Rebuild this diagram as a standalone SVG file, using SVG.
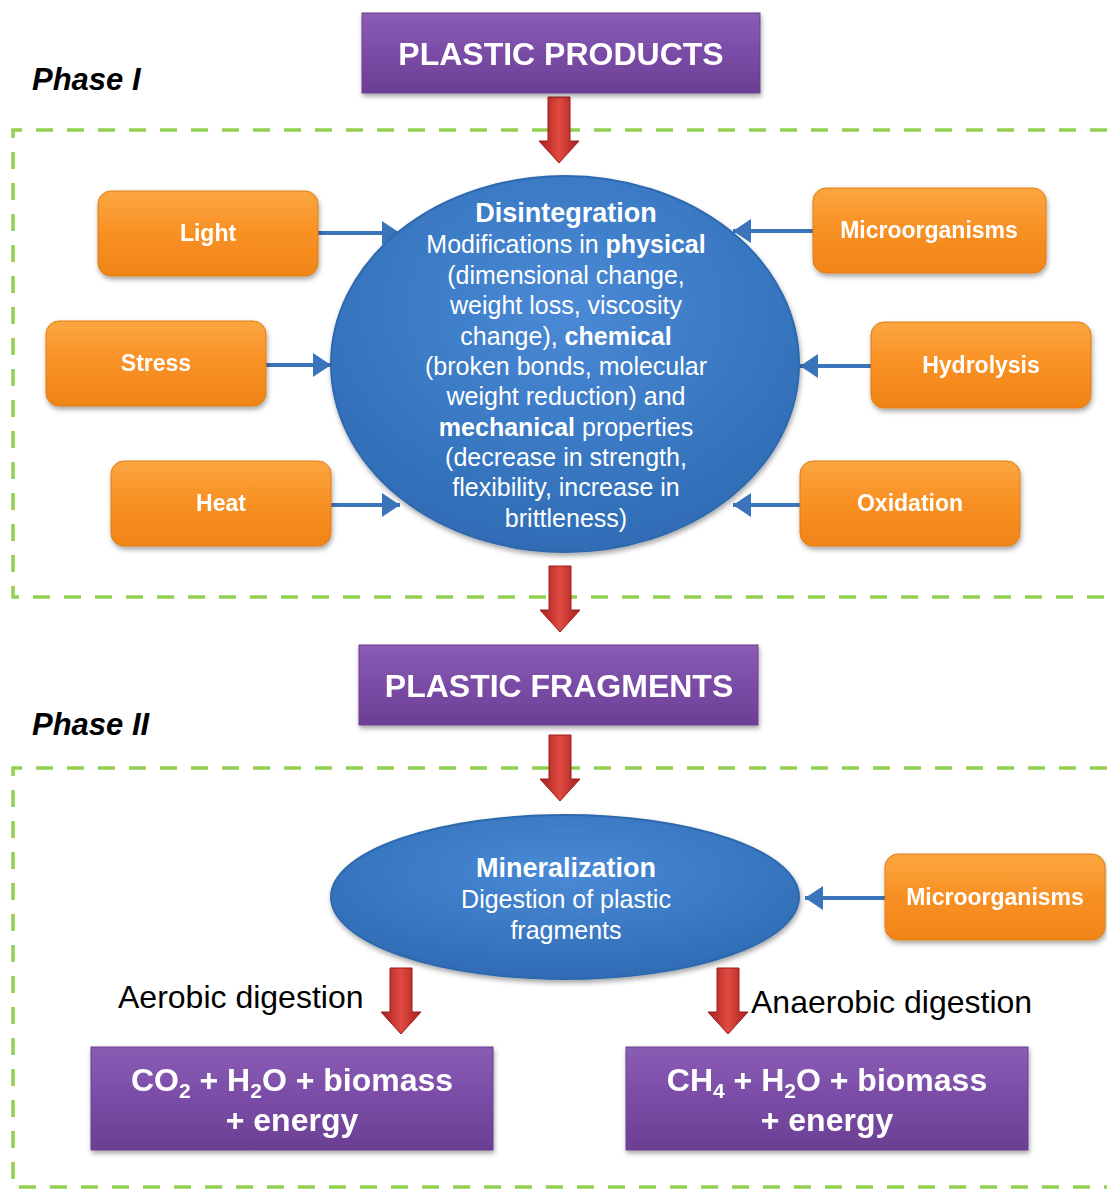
<svg xmlns="http://www.w3.org/2000/svg" xmlns:xlink="http://www.w3.org/1999/xlink" width="1107" height="1190" viewBox="0 0 1107 1190">
<style>
.dash{fill:none;stroke:#92D050;stroke-width:3.5;stroke-dasharray:17 14}
.purple{fill:url(#gPurple);stroke:#6A3E8E;stroke-width:1}
.orange{fill:url(#gOrange);stroke:#E07D12;stroke-width:1}
.blue{fill:url(#gBlue);stroke:#2E69AE;stroke-width:2}
.bl{stroke:#3A74BA;stroke-width:4;fill:none;marker-end:url(#bh)}
.tw{fill:#fff;font-family:"Liberation Sans",Arial,sans-serif;text-anchor:middle}
.big{font-size:32px;font-weight:bold}
.ob{font-size:23px;font-weight:bold}
.el{font-size:25px}
.et{font-size:27px;font-weight:bold}
.ph{font-family:"Liberation Sans",Arial,sans-serif;font-size:31px;font-weight:bold;font-style:italic;fill:#000}
.dg{font-family:"Liberation Sans",Arial,sans-serif;font-size:32px;fill:#000}
</style>
<defs>
<linearGradient id="gPurple" x1="0" y1="0" x2="0" y2="1">
<stop offset="0" stop-color="#8A5DB5"/><stop offset="0.5" stop-color="#7A4CA6"/><stop offset="1" stop-color="#6B3F93"/>
</linearGradient>
<linearGradient id="gOrange" x1="0" y1="0" x2="0" y2="1">
<stop offset="0" stop-color="#FBA640"/><stop offset="0.5" stop-color="#F89023"/><stop offset="1" stop-color="#F08418"/>
</linearGradient>
<radialGradient id="gBlue" cx="0.5" cy="0.35" r="0.65">
<stop offset="0" stop-color="#4A8AD6"/><stop offset="1" stop-color="#2F6CB5"/>
</radialGradient>
<linearGradient id="gRed" x1="0" y1="0" x2="1" y2="0">
<stop offset="0" stop-color="#A61E1E"/><stop offset="0.5" stop-color="#E04A40"/><stop offset="1" stop-color="#A61E1E"/>
</linearGradient>
<filter id="sh" x="-10%" y="-10%" width="120%" height="130%">
<feDropShadow dx="1" dy="3" stdDeviation="2.5" flood-color="#000" flood-opacity="0.35"/>
</filter>
<marker id="bh" markerUnits="userSpaceOnUse" markerWidth="20" markerHeight="26" refX="18" refY="13" orient="auto">
<path d="M0,1 L18,13 L0,25 Z" fill="#3A74BA"/>
</marker>
<path id="ra" d="M-11,0 H11 V44 H20 L0,66 L-20,44 H-11 Z" fill="url(#gRed)" stroke="#9A1C1C" stroke-width="1"/>
</defs>

<g id="phase-frames">
<path class="dash" d="M1107,130 H13 V597 H1107"/>
<path class="dash" d="M1107,768 H13 V1187 H1107"/>
</g>
<text class="ph" x="32" y="90">Phase I</text>
<text class="ph" x="32" y="735">Phase II</text>

<g id="connectors">
<use xlink:href="#ra" x="559" y="97"/>
<use xlink:href="#ra" x="560" y="566"/>
<use xlink:href="#ra" x="560" y="735"/>
<use xlink:href="#ra" x="401" y="968"/>
<use xlink:href="#ra" x="728" y="968"/>
<line class="bl" x1="318" y1="233" x2="400" y2="233"/>
<line class="bl" x1="266" y1="365" x2="331" y2="365"/>
<line class="bl" x1="331" y1="505" x2="400" y2="505"/>
<line class="bl" x1="813" y1="231" x2="733" y2="231"/>
<line class="bl" x1="871" y1="366" x2="800" y2="366"/>
<line class="bl" x1="800" y1="505" x2="733" y2="505"/>
<line class="bl" x1="885" y1="898" x2="805" y2="898"/>
</g>

<g id="plastic-products" filter="url(#sh)">
<rect class="purple" x="362" y="13" width="398" height="80"/>
<text class="tw big" x="561" y="65">PLASTIC PRODUCTS</text>
</g>

<g id="light" filter="url(#sh)">
<rect class="orange" x="98" y="191" width="220" height="85" rx="13"/>
<text class="tw ob" x="208" y="241">Light</text>
</g>
<g id="stress" filter="url(#sh)">
<rect class="orange" x="46" y="321" width="220" height="85" rx="13"/>
<text class="tw ob" x="156" y="371">Stress</text>
</g>
<g id="heat" filter="url(#sh)">
<rect class="orange" x="111" y="461" width="220" height="85" rx="13"/>
<text class="tw ob" x="221" y="511">Heat</text>
</g>
<g id="microorganisms-1" filter="url(#sh)">
<rect class="orange" x="813" y="188" width="233" height="85" rx="13"/>
<text class="tw ob" x="929" y="238">Microorganisms</text>
</g>
<g id="hydrolysis" filter="url(#sh)">
<rect class="orange" x="871" y="322" width="220" height="86" rx="13"/>
<text class="tw ob" x="981" y="373">Hydrolysis</text>
</g>
<g id="oxidation" filter="url(#sh)">
<rect class="orange" x="800" y="461" width="220" height="85" rx="13"/>
<text class="tw ob" x="910" y="511">Oxidation</text>
</g>

<g id="disintegration">
<ellipse class="blue" cx="565" cy="364" rx="234" ry="188" filter="url(#sh)"/>
<text class="tw et" x="566" y="222">Disintegration</text>
<text class="tw el" x="566" y="253">Modifications in <tspan font-weight="bold">physical</tspan></text>
<text class="tw el" x="566" y="284">(dimensional change,</text>
<text class="tw el" x="566" y="314">weight loss, viscosity</text>
<text class="tw el" x="566" y="345">change), <tspan font-weight="bold">chemical</tspan></text>
<text class="tw el" x="566" y="375">(broken bonds, molecular</text>
<text class="tw el" x="566" y="405">weight reduction) and</text>
<text class="tw el" x="566" y="436"><tspan font-weight="bold">mechanical</tspan> properties</text>
<text class="tw el" x="566" y="466">(decrease in strength,</text>
<text class="tw el" x="566" y="496">flexibility, increase in</text>
<text class="tw el" x="566" y="527">brittleness)</text>
</g>

<g id="plastic-fragments" filter="url(#sh)">
<rect class="purple" x="359" y="645" width="399" height="80"/>
<text class="tw big" x="559" y="697">PLASTIC FRAGMENTS</text>
</g>

<g id="mineralization">
<ellipse class="blue" cx="565" cy="897" rx="234" ry="82" filter="url(#sh)"/>
<text class="tw et" x="566" y="877">Mineralization</text>
<text class="tw el" x="566" y="908">Digestion of plastic</text>
<text class="tw el" x="566" y="939">fragments</text>
</g>

<g id="microorganisms-2" filter="url(#sh)">
<rect class="orange" x="885" y="854" width="220" height="86" rx="13"/>
<text class="tw ob" x="995" y="905">Microorganisms</text>
</g>

<text class="dg" x="118" y="1008">Aerobic digestion</text>
<text class="dg" x="751" y="1013">Anaerobic digestion</text>

<g id="aerobic-products" filter="url(#sh)">
<rect class="purple" x="91" y="1047" width="402" height="103"/>
<text class="tw big" x="292" y="1091">CO<tspan font-size="21" dy="7">2</tspan><tspan dy="-7"> + H</tspan><tspan font-size="21" dy="7">2</tspan><tspan dy="-7">O + biomass</tspan></text>
<text class="tw big" x="292" y="1131">+ energy</text>
</g>
<g id="anaerobic-products" filter="url(#sh)">
<rect class="purple" x="626" y="1047" width="402" height="103"/>
<text class="tw big" x="827" y="1091">CH<tspan font-size="21" dy="7">4</tspan><tspan dy="-7"> + H</tspan><tspan font-size="21" dy="7">2</tspan><tspan dy="-7">O + biomass</tspan></text>
<text class="tw big" x="827" y="1131">+ energy</text>
</g>
</svg>
